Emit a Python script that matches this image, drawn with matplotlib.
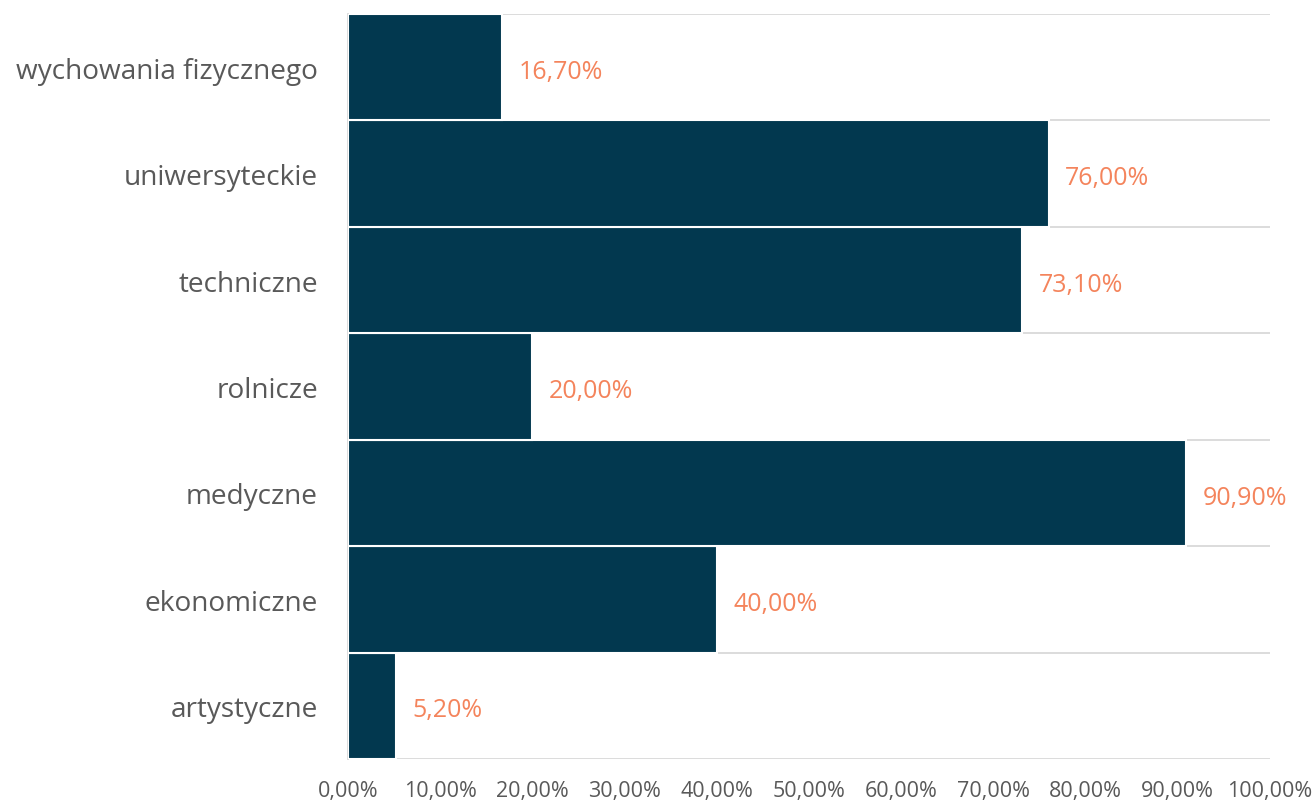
import matplotlib.pyplot as plt
from matplotlib.ticker import FuncFormatter
import numpy as np

categories = ['artystyczne', 'ekonomiczne', 'medyczne', 'rolnicze',
              'techniczne', 'uniwersyteckie', 'wychowania fizycznego']
values = [5.2, 40.0, 90.9, 20.0, 73.1, 76.0, 16.7]
xticks = [0, 10, 20, 30, 40, 50, 60, 70, 80, 90, 100]


def pct(v):
    return '{:.2f}%'.format(v).replace('.', ',')


def main():
    plt.rcParams['font.family'] = ['Open Sans', 'DejaVu Sans']
    fig = plt.figure(figsize=(13.16, 8.04), dpi=100)
    ax = fig.add_axes([0.2644, 0.0547, 0.9650 - 0.2644, 0.9813 - 0.0547])

    y = np.arange(len(categories))
    ax.barh(y, values, height=1.0, color='#02384F', edgecolor='white',
            linewidth=1.5, zorder=3)

    # value labels next to the bars
    for yi, v in zip(y, values):
        ax.text(v + 1.8, yi - 0.01, pct(v), va='center_baseline', ha='left',
                fontsize=18, color='#F4845C', zorder=4)

    ax.set_xlim(0, 100)
    ax.set_ylim(-0.5, len(categories) - 0.5)
    ax.set_xticks(xticks)
    ax.xaxis.set_major_formatter(FuncFormatter(lambda v, p: pct(v)))
    ax.set_yticks(y)
    ax.set_yticklabels(categories)
    # gridlines between the categories
    ax.set_yticks(np.arange(-0.5, len(categories)), minor=True)
    ax.grid(which='minor', axis='y', color='#D9D9D9', linewidth=1.3, zorder=0)
    ax.grid(which='major', visible=False)

    ax.tick_params(axis='x', length=0, pad=15, labelsize=15.5, labelcolor='#595959')
    ax.tick_params(axis='y', which='major', length=0, pad=21.6, labelsize=20.2,
                   labelcolor='#595959')
    ax.tick_params(axis='y', which='minor', length=0)

    for s in ['top', 'right', 'bottom']:
        ax.spines[s].set_visible(False)
    ax.spines['left'].set_color('#D9D9D9')
    ax.spines['left'].set_linewidth(1.3)

    plt.savefig('out.png')


if __name__ == "__main__":
    main()
